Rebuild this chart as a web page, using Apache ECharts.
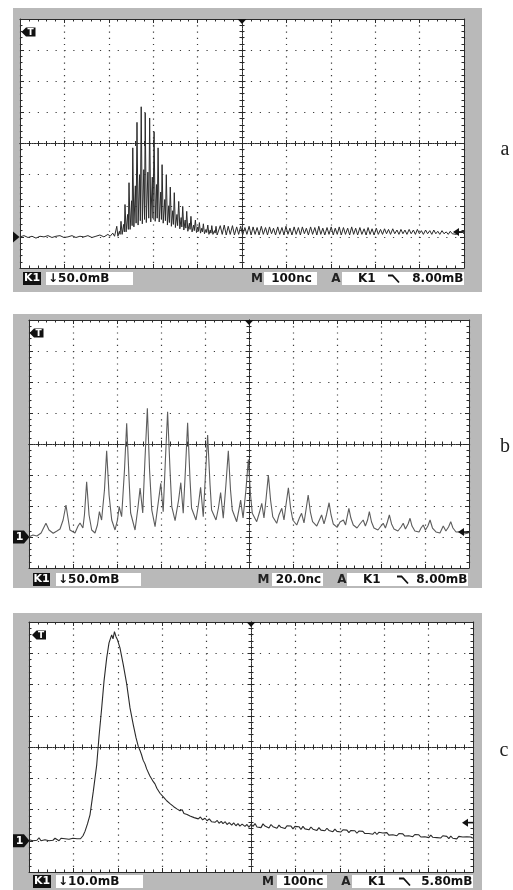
<!DOCTYPE html>
<html><head><meta charset="utf-8">
<script src="https://cdn.jsdelivr.net/npm/echarts@6/dist/echarts.min.js"></script>
<style>html,body{margin:0;padding:0;background:#fff}#c{width:513px;height:890px}</style>
</head><body><div id="c"></div>
<script>
// ---- Data (time in ns, amplitude in mV relative to channel ground) ----
// Panel a: 100 ns/div, 50 mV/div
const aBaseline = [[-500,0],[-491,2],[-482,-1],[-473,1],[-464,-2],[-455,1],[-446,0],[-437,2],[-428,-1],[-419,1],[-410,2],[-401,-1],[-392,0],[-383,2],[-374,-1],[-365,1],[-356,0],[-347,2],[-338,-1],[-329,1],[-320,3],[-311,0],[-302,4],[-297,1],[-291,6],[-287,1]];
const aBurst = [
[-282,17],[-279.5,1],[-276.2,9],[-274.5,4],
[-272.5,25],[-270,4],[-266.7,20],[-265,8],
[-263.5,52],[-261,8],[-257.7,36],[-256,12],
[-254.5,87],[-252,12],[-248.7,58],[-247.5,18],
[-246,143],[-243.5,16],[-240.2,82],[-238.5,22],
[-236.5,184],[-234,19],[-230.7,100],[-229,26],
[-227,209],[-224.5,21],[-221.2,108],[-219.5,28],
[-218,199],[-215.5,23],[-212,104],[-210,30],
[-208,191],[-205.5,24],[-202,96],[-200.5,30],
[-198,169],[-195.5,25],[-192.5,84],[-191,30],
[-189,143],[-186.5,24],[-183,72],[-181.5,28],
[-180,116],[-177.5,22],[-174,60],[-172.5,26],
[-170.5,100],[-168,19],[-165,50],[-163.5,23],
[-161.5,80],[-159,17],[-156,42],[-154.5,20],
[-152.5,71],[-150,15],[-146.5,36],[-145,18],
[-142.5,57],[-140,13],[-137,31],[-135.5,16],
[-133.5,49],[-131,11],[-128,27],[-126.5,14],
[-124.5,41],[-122,9],[-118.5,22],[-117,12],
[-115,33],[-112.5,8],[-109,19],[-107.5,10],
[-105,27],[-102.5,7],[-99.5,16],[-98,9],
[-96,23],[-93.5,6],[-90.5,14],[-89,8],
[-87,21],[-84.5,5],[-81,12],[-79.5,7],
[-77,19],[-74.5,4],[-71.5,11],[-70,6],
[-68,18],[-65.5,4],[-62,10],[-60.5,6],
[-58.5,17],[-56,3]];
const aTail = [[-49,18],[-44.5,4],[-40,19],[-35.5,3],[-31,17],[-26.5,4],[-21.5,18],[-17,3],[-12,16],[-7.5,4],[-3,17],[1.5,3],[6.5,15],[11,4],[16,17],[20.5,3],[25,16],[29.5,4],[34,15],[38.5,3],[43.5,17],[48,4],[53,15],[57.5,3],[62,16],[66.5,5],[71,14],[75.5,3],[80.5,16],[85,4],[90,15],[94.5,3],[99,17],[103.5,4],[108,14],[112.5,3],[117.5,16],[122,4],[127,15],[131.5,3],[136,16],[140.5,5],[145,14],[149.5,3],[154.5,16],[159,4],[164,15],[168.5,3],[173,17],[177.5,4],[182,14],[186.5,3],[191.5,15],[196,4],[201,16],[205.5,3],[210,14],[214.5,4],[219,16],[223.5,3],[228.5,15],[233,4],[238,14],[242.5,3],[247,16],[251.5,4],[256,14],[260.5,3],[265.5,15],[270,4],[275,13],[279.5,3],[284,15],[288.5,4],[293,13],[297.5,3],[302.5,14],[307,4],[312,12],[316.5,4],[321,13],[325.5,5],[330,12],[334.5,4],[339.5,13],[344,5],[349,11],[353.5,4],[358,12],[362.5,5],[367,11],[371.5,4],[376.5,12],[381,5],[386,11],[390.5,4],[395,12],[399.5,5],[404,10],[408.5,4],[413.5,11],[418,5],[423,10],[427.5,4],[432,11],[436.5,5],[441,9],[445.5,4],[450.5,10],[455,5],[460,8],[464.5,4],[469,9],[473.5,5],[478,8],[482.5,4],[487.5,7],[492,5],[497,7],[500,5]];
// Panel b: 20 ns/div, 50 mV/div
const bTrace = [[-99.9,0.5],[-98.2,3.2],[-96.4,1.6],[-94.5,6.5],[-92.3,22.1],[-90.9,11.3],[-89.0,6.0],[-87.3,9.7],[-85.9,12.9],[-84.5,27.4],[-83.2,51.6],[-82.0,24.2],[-81.4,11.3],[-79.1,6.5],[-77.7,17.7],[-76.8,22.6],[-75.5,14.5],[-74.8,35.5],[-73.8,89.2],[-72.7,35.5],[-71.5,11.3],[-70.0,6.5],[-68.9,19.4],[-68.0,40.8],[-67.0,27.4],[-65.7,75.8],[-64.7,139.2],[-63.6,67.7],[-62.4,27.4],[-60.9,11.3],[-59.8,27.4],[-59.0,48.9],[-57.9,32.7],[-56.6,108.1],[-55.6,183.4],[-54.5,91.9],[-53.8,38.7],[-51.8,11.3],[-50.5,46.8],[-49.5,79.0],[-48.3,38.7],[-47.3,124.2],[-46.2,207.6],[-45.2,108.1],[-44.2,43.6],[-42.7,16.6],[-41.1,59.7],[-40.1,86.6],[-39.0,40.8],[-38.0,124.2],[-37.0,202.1],[-35.9,108.1],[-35.1,48.9],[-33.6,26.3],[-32.0,59.7],[-31.0,87.6],[-29.9,38.2],[-28.9,108.1],[-27.9,184.4],[-26.8,91.9],[-26.1,46.3],[-24.1,27.4],[-23.0,51.6],[-22.0,80.2],[-20.8,32.7],[-19.8,100.0],[-18.8,164.5],[-17.7,83.9],[-17.0,43.6],[-15.0,27.4],[-13.9,46.8],[-12.9,71.5],[-11.7,30.2],[-10.5,83.9],[-9.4,139.2],[-8.4,75.8],[-7.6,43.6],[-5.6,24.7],[-4.6,43.6],[-3.8,59.7],[-2.7,30.6],[-1.4,75.8],[-0.3,125.0],[0.7,67.7],[1.5,38.2],[3.5,24.7],[4.8,40.3],[5.8,54.4],[6.8,30.6],[7.7,59.7],[8.8,100.0],[9.8,59.7],[10.8,32.7],[12.6,22.1],[13.6,35.5],[14.9,46.3],[15.9,27.4],[16.8,51.6],[17.9,79.5],[18.9,46.8],[19.9,27.4],[21.7,19.4],[22.9,30.6],[23.9,38.2],[25.0,22.6],[25.9,43.6],[26.9,67.7],[27.9,40.3],[28.9,24.7],[30.8,17.7],[32.0,27.4],[33.0,35.5],[34.1,21.0],[35.2,35.5],[36.4,55.3],[37.3,35.5],[38.3,21.0],[40.1,15.6],[41.4,24.2],[42.9,27.4],[43.9,19.4],[44.5,30.6],[45.4,46.3],[46.3,30.6],[47.4,19.4],[49.1,14.5],[50.4,21.0],[51.9,27.4],[52.9,17.7],[53.9,27.4],[54.7,40.8],[55.7,24.2],[56.8,14.5],[58.6,11.3],[60.0,17.7],[61.0,22.1],[62.0,14.5],[62.9,24.2],[63.8,35.5],[64.8,21.0],[65.9,12.9],[67.7,9.7],[69.1,16.1],[70.1,22.1],[71.1,12.9],[72.3,21.0],[73.2,30.2],[74.1,17.7],[75.4,9.7],[77.3,8.1],[78.2,14.5],[79.2,19.4],[80.2,11.3],[81.3,17.7],[82.3,27.4],[83.4,14.5],[85.0,8.1],[86.8,6.5],[88.3,17.7],[89.5,9.7],[90.7,16.1],[91.7,24.7],[92.7,14.5],[94.1,8.1],[95.9,8.5],[97.7,4.8],[99.8,6.5]];
// Panel c: 100 ns/div, 10 mV/div
const cBaseline = [[-500,0.32],[-495.5,0.8],[-491,0],[-486.5,0.64],[-482,0.16],[-477.5,0.96],[-473,0],[-468.5,0.48],[-464,0.32],[-459.5,0.96],[-455,0],[-450.5,0.64],[-446,0.16],[-441.4,0.8],[-436.9,0.32],[-432.4,0],[-427.9,0.8],[-423.4,0.32],[-418.9,0.64],[-414.4,0],[-409.9,0.48],[-405.4,0.32],[-400.9,0.8],[-396.4,0.16],[-391.9,0.64],[-387.4,0.32],[-384,0.64]];
const cPulse = [[-378.4,1.6],[-373.9,3.0],[-368.3,5.4],[-362.6,8.3],[-355.2,15.8],[-347.5,24.3],[-342.4,33.2],[-336.3,42.5],[-331.1,51.0],[-325.0,58.5],[-319.8,63.3],[-313.8,65.9],[-310.8,64.6],[-307.5,66.9],[-304.1,65.3],[-300.7,64.3],[-295.1,61.7],[-287.6,56.3],[-280.0,50.2],[-272.5,42.5],[-265.1,37.1]];
const cDecay = [[-259.0,33.0],[-253.9,30.2],[-250,28.9],[-246.7,27.6],[-243,25.8],[-238.8,24.6],[-235,23.0],[-232,22.4],[-228,20.8],[-223.7,20.4],[-220,18.9],[-216.3,18.2],[-212,16.8],[-208.8,16.6],[-205,15.2],[-200.5,15.0],[-196,13.8],[-192,13.6],[-189.9,12.8],[-186,12.9],[-182.5,11.9],[-178,12.0],[-174,10.9],[-171.2,11.2],[-167,10.2],[-163,10.4],[-159.9,9.6],[-155,9.9],[-151,8.7],[-148.7,9.2],[-144,8.4],[-140,8.6],[-137.4,7.9],[-133,8.4],[-128,7.4],[-124,7.9],[-118.7,7.0],[-114,7.6],[-109,6.7],[-103.6,7.2],[-99,6.4],[-94,7.0],[-89,6.1],[-85,6.7],[-81.1,5.9],[-76,6.5],[-72,5.6],[-67,6.2],[-63.1,5.5],[-58,6.1],[-54,5.2],[-49,5.8],[-43.5,5.0],[-39,5.7],[-34,4.8],[-29.3,5.5],[-25,4.7],[-20,5.3],[-13.6,4.6]];
const cTail = [[-9,5.2],[-4.5,4.3],[0,5.3],[4.5,4.6],[9,5.5],[13.5,4.4],[18,5.0],[22.5,4.2],[27,5.4],[31.5,4.7],[36,4.9],[40.5,4.1],[45,5.2],[49.5,4.5],[54,4.8],[58.5,4.0],[63,5.0],[67.5,4.3],[72,4.9],[76.5,3.9],[81,4.8],[85.5,4.2],[90,4.7],[94.5,3.8],[99,4.6],[103.5,4.0],[108,4.5],[112.5,3.6],[117,4.6],[121.5,3.8],[126,4.2],[130.5,3.5],[135,4.4],[139.5,3.7],[144,4.1],[148.5,3.3],[153,4.2],[157.5,3.4],[162,3.9],[166.5,3.2],[171,4.0],[175.5,3.3],[180,3.8],[184.5,2.9],[189,3.7],[193.5,3.0],[198,3.6],[202.5,2.8],[207,3.5],[211.5,2.9],[216,3.4],[220.5,2.6],[225,3.3],[229.5,2.7],[234,3.2],[238.5,2.4],[243,3.1],[247.5,2.5],[252,3.0],[256.5,2.3],[261,2.9],[265.5,2.3],[270,2.8],[274.5,2.1],[279,2.8],[283.5,2.0],[288,2.7],[292.5,2.1],[297,2.5],[301.5,1.9],[306,2.6],[310.5,1.8],[315,2.4],[319.5,1.9],[324,2.3],[328.5,1.6],[333,2.3],[337.5,1.7],[342,2.2],[346.5,1.5],[351,2.1],[355.5,1.6],[360,2.0],[364.5,1.3],[369,2.0],[373.5,1.4],[378,1.9],[382.5,1.2],[387,1.8],[391.5,1.3],[396,1.7],[400.5,1.0],[405,1.8],[409.5,1.1],[414,1.6],[418.5,1.0],[423,1.5],[427.5,0.9],[432,1.6],[436.5,1.0],[441,1.4],[445.5,0.7],[450,1.5],[454.5,0.8],[459,1.3],[463.5,0.6],[468,1.4],[472.5,0.8],[477,1.2],[481.5,0.6],[486,1.3],[490.5,0.7],[495,1.2],[499.5,0.8]];
// Status line texts
const panelLabels = ['a','b','c'];
const voltsPerDiv = ['↓50.0mB','↓50.0mB','↓10.0mB'];
const timePerDiv = ['100nc','20.0nc','100nc'];
const triggerText = ['8.00mB','8.00mB','5.80mB'];
const triggerLevel = [8, 8, 5.8];

// ---- Layout ----
const panels = [
  {tMin:-500,tMax:500,tDiv:100,vMin:-50,vMax:350,vDiv:50, data:aBaseline.concat(aBurst,aTail), color:'#2a2a2a', width:1,
   grid:{left:20,top:19,width:444,height:249}, frame:[13,8,469,284], bar:272, k1:[23,18], chBox:[46,87], mX:257, mBox:[264,53], aX:336, trBox:[342,122], trK1:358, edge:388, label:[505,150], tMark:[21.5,27.5], ground1:false},
  {tMin:-100,tMax:100,tDiv:20,vMin:-50,vMax:350,vDiv:50, data:bTrace, color:'#5c5c5c', width:1.1,
   grid:{left:29,top:320,width:440,height:248}, frame:[13,314,469,274], bar:573, k1:[33,17], chBox:[56,85], mX:263.5, mBox:[272,51], aX:342, trBox:[347,121], trK1:363, edge:397, label:[505,447], tMark:[29.5,328.5], ground1:true},
  {tMin:-500,tMax:500,tDiv:100,vMin:-10,vMax:70,vDiv:10, data:cBaseline.concat(cPulse,cDecay,cTail), color:'#2a2a2a', width:1.1,
   grid:{left:29,top:622,width:444,height:250}, frame:[13,613,469,280], bar:875, k1:[33,18], chBox:[56,87], mX:268, mBox:[277,50], aX:346, trBox:[352,121], trK1:368, edge:399, label:[504,751], tMark:[32,630.5], ground1:true}
];

const LINE = '#2b2b2b', DOT = '#3a3a3a';
const grids = [], xAxes = [], yAxes = [], series = [];
function borderAxis(pos, gi, min, max, interval, split) {
  return {type:'value', gridIndex:gi, position:pos, min:min, max:max, interval:interval,
    axisLabel:{show:false}, axisPointer:{show:false},
    axisLine:{show:true, onZero:false, lineStyle:{color:LINE, width:1}},
    axisTick:{show:true, inside:true, length:4, lineStyle:{color:LINE, width:1}},
    minorTick:{show:true, splitNumber:5, length:2.5, lineStyle:{color:LINE, width:1}},
    splitLine: split ? {show:true, lineStyle:{color:DOT, width:1.2, type:split}} : {show:false},
    minorSplitLine:{show:false}};
}
function centerAxis(pos, gi, half, inside, zeroIdx) {
  return {type:'value', gridIndex:gi, position:pos, min:-half, max:half, interval:1,
    axisLabel:{show:false}, axisPointer:{show:false},
    axisLine:{show:true, onZero:true, onZeroAxisIndex:zeroIdx, lineStyle:{color:LINE, width:1, type:[1.2,1.2]}},
    axisTick:{show:true, inside:inside, length:3.5, lineStyle:{color:LINE, width:1}},
    minorTick:{show:true, splitNumber:5, length:2.5, lineStyle:{color:LINE, width:1}},
    splitLine:{show:false}, minorSplitLine:{show:false}};
}
panels.forEach(function (P, p) {
  const g = P.grid;
  grids.push({left:g.left, top:g.top, width:g.width, height:g.height, containLabel:false, outerBoundsMode:'none', show:true, backgroundColor:'#ffffff', borderWidth:0});
  grids.push({left:g.left, top:g.top, width:g.width, height:g.height, containLabel:false, outerBoundsMode:'none', show:false});
  const dx = g.width / 10 / 5, dy = g.height / 8 / 5;
  xAxes.push(borderAxis('bottom', 2*p, P.tMin, P.tMax, P.tDiv, [1.2, dy - 1.2]));
  xAxes.push(borderAxis('top', 2*p, P.tMin, P.tMax, P.tDiv, null));
  xAxes.push(centerAxis('bottom', 2*p+1, 5, false, 4*p+2));
  xAxes.push(centerAxis('bottom', 2*p+1, 5, true, 4*p+2));
  yAxes.push(borderAxis('left', 2*p, P.vMin, P.vMax, P.vDiv, [1.2, dx - 1.2]));
  yAxes.push(borderAxis('right', 2*p, P.vMin, P.vMax, P.vDiv, null));
  yAxes.push(centerAxis('left', 2*p+1, 4, false, 4*p+2));
  yAxes.push(centerAxis('left', 2*p+1, 4, true, 4*p+2));
  series.push({type:'line', xAxisIndex:4*p, yAxisIndex:4*p, data:P.data, showSymbol:false, symbol:'none',
    smooth:false, silent:true, z:5, clip:true, lineStyle:{color:P.color, width:P.width}});
});

const chart = echarts.init(document.getElementById('c'), null, {renderer:'canvas', width:513, height:890});
chart.setOption({animation:false, backgroundColor:'#ffffff', grid:grids, xAxis:xAxes, yAxis:yAxes, series:series});

// ---- Oscilloscope screen decorations ----
const FONT = 'bold 12px "DejaVu Sans"';
const els = [];
panels.forEach(function (P, p) {
  const g = P.grid, f = P.frame, by = P.bar, bh = 13, cy = by + bh / 2;
  const right = g.left + g.width;
  els.push({type:'rect', z:-10, shape:{x:f[0], y:f[1], width:f[2], height:f[3]}, style:{fill:'#b9b9b9'}});
  els.push({type:'rect', z:50, shape:{x:P.k1[0], y:by, width:P.k1[1], height:bh}, style:{fill:'#111'}});
  els.push({type:'text', z:51, style:{text:'K1', x:P.k1[0] + P.k1[1]/2, y:cy, fill:'#fff', font:'bold 11px "DejaVu Sans"', textAlign:'center', textVerticalAlign:'middle'}});
  els.push({type:'rect', z:50, shape:{x:P.chBox[0], y:by, width:P.chBox[1], height:bh}, style:{fill:'#fff'}});
  els.push({type:'text', z:51, style:{text:voltsPerDiv[p], x:P.chBox[0] + 2, y:cy, fill:'#111', font:FONT, textAlign:'left', textVerticalAlign:'middle'}});
  els.push({type:'text', z:51, style:{text:'M', x:P.mX, y:cy, fill:'#222', font:FONT, textAlign:'center', textVerticalAlign:'middle'}});
  els.push({type:'rect', z:50, shape:{x:P.mBox[0], y:by, width:P.mBox[1], height:bh}, style:{fill:'#fff'}});
  els.push({type:'text', z:51, style:{text:timePerDiv[p], x:P.mBox[0] + P.mBox[1]/2 + 1, y:cy, fill:'#111', font:FONT, textAlign:'center', textVerticalAlign:'middle'}});
  els.push({type:'text', z:51, style:{text:'A', x:P.aX, y:cy, fill:'#222', font:FONT, textAlign:'center', textVerticalAlign:'middle'}});
  els.push({type:'rect', z:50, shape:{x:P.trBox[0], y:by, width:P.trBox[1], height:bh}, style:{fill:'#fff'}});
  els.push({type:'text', z:51, style:{text:'K1', x:P.trK1, y:cy, fill:'#111', font:FONT, textAlign:'left', textVerticalAlign:'middle'}});
  els.push({type:'polyline', z:51, shape:{points:[[P.edge, by+3.5],[P.edge+4.5, by+3.5],[P.edge+11, by+10.5]]}, style:{stroke:'#111', lineWidth:1.8, fill:null}});
  els.push({type:'text', z:51, style:{text:triggerText[p], x:P.trBox[0] + P.trBox[1] - 0.5, y:cy, fill:'#111', font:FONT, textAlign:'right', textVerticalAlign:'middle'}});
  const tm = P.tMark;
  els.push({type:'polygon', z:50, shape:{points:[[tm[0], tm[1]+4.5],[tm[0]+4.5, tm[1]],[tm[0]+14, tm[1]],[tm[0]+14, tm[1]+9],[tm[0]+4.5, tm[1]+9]]}, style:{fill:'#111'}});
  els.push({type:'text', z:51, style:{text:'T', x:tm[0]+9, y:tm[1]+4.7, fill:'#fff', font:'bold 9px "DejaVu Sans"', textAlign:'center', textVerticalAlign:'middle'}});
  const topC = chart.convertToPixel({seriesIndex:p}, [0, P.vMax]);
  els.push({type:'polygon', z:50, shape:{points:[[topC[0]-4.5, topC[1]],[topC[0]+4.5, topC[1]],[topC[0], topC[1]+5]]}, style:{fill:'#111'}});
  const gnd = chart.convertToPixel({seriesIndex:p}, [P.tMin, 0]);
  if (P.ground1) {
    els.push({type:'polygon', z:50, shape:{points:[[13, gnd[1]-6.5],[24, gnd[1]-6.5],[29.5, gnd[1]],[24, gnd[1]+6.5],[13, gnd[1]+6.5]]}, style:{fill:'#111'}});
    els.push({type:'text', z:51, style:{text:'1', x:19.5, y:gnd[1]+0.5, fill:'#fff', font:'bold 11px "DejaVu Sans"', textAlign:'center', textVerticalAlign:'middle'}});
  } else {
    els.push({type:'polygon', z:50, shape:{points:[[13, gnd[1]-5.5],[19.5, gnd[1]],[13, gnd[1]+5.5]]}, style:{fill:'#111'}});
  }
  const trg = chart.convertToPixel({seriesIndex:p}, [P.tMax, triggerLevel[p]]);
  els.push({type:'polygon', z:50, shape:{points:[[right-11, trg[1]],[right-5, trg[1]-4],[right-5, trg[1]+4]]}, style:{fill:'#111'}});
  els.push({type:'line', z:50, shape:{x1:right-6, y1:trg[1], x2:right, y2:trg[1]}, style:{stroke:'#111', lineWidth:1.6}});
  els.push({type:'text', z:51, style:{text:panelLabels[p], x:P.label[0], y:P.label[1], fill:'#222', font:'20px "Liberation Serif"', textAlign:'center', textVerticalAlign:'middle'}});
});
chart.setOption({graphic:{elements:els}});
</script>
</body></html>
